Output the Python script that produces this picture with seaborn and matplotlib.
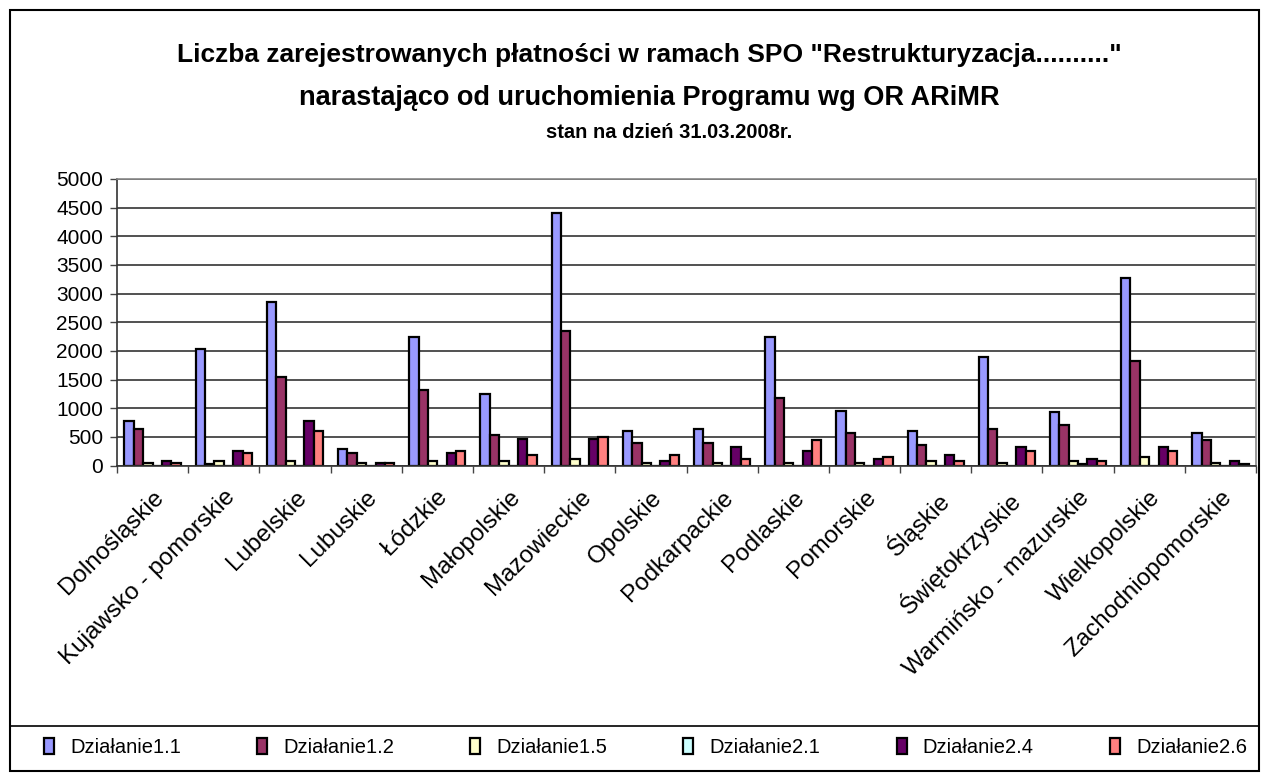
import matplotlib
matplotlib.use("Agg")
import matplotlib.pyplot as plt
import seaborn as sns
import pandas as pd
from matplotlib.patches import Rectangle
from matplotlib.lines import Line2D

categories = ["Dolnośląskie", "Kujawsko - pomorskie", "Lubelskie", "Lubuskie", "Łódzkie",
              "Małopolskie", "Mazowieckie", "Opolskie", "Podkarpackie", "Podlaskie",
              "Pomorskie", "Śląskie", "Świętokrzyskie", "Warmińsko - mazurskie",
              "Wielkopolskie", "Zachodniopomorskie"]
series_names = ["Działanie1.1", "Działanie1.2", "Działanie1.5", "Działanie2.1", "Działanie2.4", "Działanie2.6"]
d11 = [776, 2033, 2848, 293, 2248, 1247, 4407, 603, 638, 2248, 957, 603, 1899, 925, 3272, 569]
d12 = [638, 30, 1540, 224, 1316, 535, 2353, 397, 397, 1172, 569, 362, 638, 713, 1830, 437]
d15 = [35, 86, 80, 35, 80, 80, 115, 35, 35, 35, 35, 86, 35, 86, 150, 35]
d21 = [0, 0, 0, 0, 0, 0, 0, 0, 0, 0, 0, 0, 0, 25, 0, 0]
d24 = [80, 259, 776, 40, 218, 466, 466, 80, 328, 259, 121, 184, 328, 121, 328, 86]
d26 = [40, 224, 609, 35, 259, 184, 500, 184, 115, 437, 150, 80, 259, 86, 259, 30]
yticks = [0, 500, 1000, 1500, 2000, 2500, 3000, 3500, 4000, 4500, 5000]
colors = ["#9999FF", "#993366", "#FFFFCC", "#CCFFFF", "#660066", "#FF8080"]

rows = []
for name, vals in zip(series_names, [d11, d12, d15, d21, d24, d26]):
    for c, v in zip(categories, vals):
        rows.append({"Województwo": c, "Seria": name, "Wartość": v})
df = pd.DataFrame(rows)

sns.set_theme(style="white")
plt.rcParams["font.family"] = ["Liberation Sans", "DejaVu Sans"]
plt.rcParams["text.color"] = "black"
plt.rcParams["xtick.color"] = "black"
plt.rcParams["ytick.color"] = "black"
plt.rcParams["xtick.labelcolor"] = "black"
plt.rcParams["ytick.labelcolor"] = "black"

W, H = 1262, 773
fig = plt.figure(figsize=(W / 100, H / 100), dpi=100)
ax = fig.add_axes([117 / W, 1 - 465.5 / H, (1256 - 117) / W, (465.5 - 179) / H])

sns.barplot(data=df, x="Województwo", y="Wartość", hue="Seria", order=categories,
            hue_order=series_names, palette=colors, width=0.79, dodge=True,
            edgecolor="black", linewidth=1.6, saturation=1, ax=ax, legend=True)

ax.set_ylim(0, 5000)
ax.set_xlim(-0.5, len(categories) - 0.5)
ax.set_yticks(yticks)
ax.set_yticklabels([str(t) for t in yticks], fontsize=15)
ax.yaxis.grid(True, color="#222222", linewidth=1.1)
ax.set_axisbelow(True)
ax.set_xlabel("")
ax.set_ylabel("")
ax.tick_params(axis="y", which="major", direction="out", length=5, width=1, color="#444444", left=True, pad=5)
ax.set_xticks(range(len(categories)))
ax.set_xticklabels(categories, rotation=45, ha="right", rotation_mode="anchor", fontsize=17.5)
ax.set_xticks([i + 0.5 for i in range(-1, len(categories))], minor=True)
ax.tick_params(axis="x", which="major", length=0, pad=15)
ax.tick_params(axis="x", which="minor", direction="out", length=5, width=1, color="#444444", bottom=True)
for s in ["top", "right"]:
    ax.spines[s].set_color("#888888")
    ax.spines[s].set_linewidth(1.2)
ax.spines["left"].set_color("#333333")
ax.spines["left"].set_linewidth(1.2)
ax.spines["bottom"].set_color("#333333")
ax.spines["bottom"].set_linewidth(1.2)

handles, labels = ax.get_legend_handles_labels()
ax.get_legend().remove()
fig.legend(handles, labels, ncol=6, loc="center left",
           bbox_to_anchor=(36 / W, 1 - 748 / H, (1255 - 36) / W, 0.001), mode="expand",
           frameon=False, fontsize=14.5, handlelength=0.5, handleheight=0.85,
           handletextpad=0.8, borderaxespad=0)

# outer frame and legend separator
fig.add_artist(Rectangle((10 / W, 1 - 771 / H), (1259 - 10) / W, (771 - 10) / H,
                         transform=fig.transFigure, fill=False, edgecolor="black", linewidth=1.5))
fig.add_artist(Line2D([10 / W, 1259 / W], [1 - 726 / H, 1 - 726 / H],
                      transform=fig.transFigure, color="black", linewidth=1.2))

fig.text(649 / W, 1 - 55 / H, 'Liczba zarejestrowanych płatności w ramach SPO "Restrukturyzacja.........."',
         ha="center", va="center", fontsize=19, fontweight="bold")
fig.text(649 / W, 1 - 98 / H, "narastająco od uruchomienia Programu wg OR ARiMR",
         ha="center", va="center", fontsize=19.5, fontweight="bold")
fig.text(669 / W, 1 - 133 / H, "stan na dzień 31.03.2008r.",
         ha="center", va="center", fontsize=14.5, fontweight="bold")

fig.savefig("out.png", dpi=100)
